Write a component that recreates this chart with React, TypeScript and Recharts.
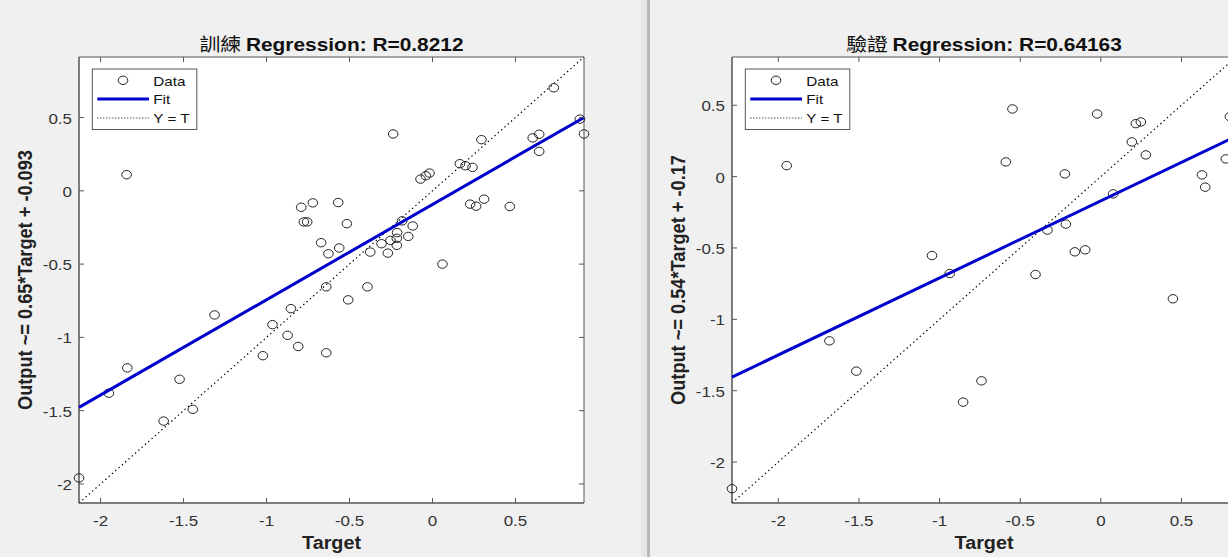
import React from 'react';
import { ScatterChart, Scatter, XAxis, YAxis, ReferenceArea, ReferenceLine } from 'recharts';

// 訓練 set: targets vs network outputs
const trainTarget = [
  -2.13, -1.95, -1.843, -1.839, -1.62, -1.524, -1.444, -1.313, -1.022, -0.964, -0.873, -0.853, -0.809, -0.791,
  -0.775, -0.755, -0.721, -0.671, -0.64, -0.64, -0.627, -0.568, -0.562, -0.516, -0.508, -0.392, -0.375, -0.307,
  -0.269, -0.253, -0.237, -0.215, -0.213, -0.215, -0.183, -0.146, -0.119, -0.072, -0.04, -0.018, 0.06, 0.165,
  0.199, 0.241, 0.227, 0.263, 0.295, 0.311, 0.466, 0.604, 0.643, 0.643, 0.731, 0.888, 0.913,
];
const trainOutput = [
  -1.959, -1.381, 0.11, -1.208, -1.571, -1.286, -1.491, -0.847, -1.125, -0.913, -0.986, -0.804, -1.062, -0.112,
  -0.212, -0.212, -0.082, -0.354, -0.655, -1.105, -0.429, -0.08, -0.39, -0.224, -0.744, -0.655, -0.418, -0.361,
  -0.425, -0.338, 0.388, -0.324, -0.285, -0.372, -0.205, -0.311, -0.24, 0.08, 0.103, 0.121, -0.5, 0.185,
  0.171, 0.16, -0.091, -0.105, 0.349, -0.057, -0.107, 0.361, 0.386, 0.269, 0.703, 0.489, 0.388,
];

// 驗證 set
const valTarget = [
  -2.287, -1.948, -1.683, -1.516, -1.047, -0.937, -0.854, -0.74, -0.589, -0.548, -0.405, -0.331, -0.223, -0.217,
  -0.161, -0.097, -0.023, 0.076, 0.192, 0.217, 0.248, 0.279, 0.447, 0.627, 0.647, 0.775, 0.8,
];
const valOutput = [
  -2.187, 0.077, -1.151, -1.363, -0.553, -0.679, -1.58, -1.431, 0.103, 0.474, -0.686, -0.375, 0.019, -0.333,
  -0.527, -0.513, 0.439, -0.121, 0.243, 0.371, 0.383, 0.152, -0.856, 0.012, -0.074, 0.124, 0.42,
];

const trainDomain: [number, number] = [-2.13, 0.913];
const valDomain: [number, number] = [-2.287, 0.838];
const trainFit = [0.65, -0.093]; // slope, offset
const valFit = [0.54, -0.17];
const tickValues = [-2, -1.5, -1, -0.5, 0, 0.5];

const W = 620;
const H = 557;
const TOP = 57;
const BOTTOM = 503;
const SX = 1.13; // the screenshot is stretched sideways
const AXIS = '#555';
const TEXT = '#333';
const BLUE = '#0000cd';
const FONT = '"Liberation Sans", Arial, Helvetica, sans-serif';
const CJK = '"Noto Sans CJK TC", "Noto Sans CJK SC", sans-serif';

const Ring = (p: any) => (
  <ellipse cx={p.cx} cy={p.cy} rx={4.8} ry={4.2} fill="none" stroke="#222" strokeWidth={1} />
);

type PanelProps = {
  left: number;
  axisW: number;
  marginRight: number;
  domain: [number, number];
  targets: number[];
  outputs: number[];
  fit: number[];
  name: string;
  r: string;
};

function Panel({ left, axisW, marginRight, domain, targets, outputs, fit, name, r }: PanelProps) {
  const plotLeft = axisW;
  const plotRight = W - marginRight;
  const cx = (plotLeft + plotRight) / 2;
  const points = targets.map((t, i) => ({ x: t, y: outputs[i] }));
  const fitPoints = domain.map((v) => ({ x: v, y: fit[0] * v + fit[1] }));
  const yLabel = `Output ~= ${fit[0]}*Target + ${fit[1]}`;

  const XTick = (p: any) => (
    <g>
      <line x1={p.x} y1={p.y} x2={p.x} y2={p.y - 5} stroke={AXIS} />
      <line x1={p.x} y1={TOP} x2={p.x} y2={TOP + 5} stroke={AXIS} />
      <text
        transform={`translate(${p.x} ${p.y + 23}) scale(${SX} 1)`}
        textAnchor="middle"
        fontFamily={FONT}
        fontSize={15}
        fill={TEXT}
      >
        {p.payload.value}
      </text>
    </g>
  );

  const YTick = (p: any) => (
    <g>
      <line x1={p.x} y1={p.y} x2={p.x + 5} y2={p.y} stroke={AXIS} />
      <line x1={plotRight} y1={p.y} x2={plotRight - 5} y2={p.y} stroke={AXIS} />
      <text
        transform={`translate(${p.x - 7} ${p.y + 6}) scale(${SX} 1)`}
        textAnchor="end"
        fontFamily={FONT}
        fontSize={15}
        fill={TEXT}
      >
        {p.payload.value}
      </text>
    </g>
  );

  return (
    <div style={{ position: 'absolute', left, top: 0, width: W, height: H }}>
      <ScatterChart width={W} height={H} margin={{ top: TOP, right: marginRight, bottom: H - BOTTOM - 30, left: 0 }}>
        <ReferenceArea
          x1={domain[0]}
          x2={domain[1]}
          y1={domain[0]}
          y2={domain[1]}
          fill="#fff"
          fillOpacity={1}
          stroke={AXIS}
          strokeWidth={1}
        />
        <XAxis
          type="number"
          dataKey="x"
          domain={domain}
          ticks={tickValues}
          interval={0}
          height={30}
          tickSize={0}
          tickMargin={0}
          tickLine={false}
          axisLine={{ stroke: AXIS }}
          tick={(p: any) => <XTick {...p} />}
        />
        <YAxis
          type="number"
          dataKey="y"
          domain={domain}
          ticks={tickValues}
          interval={0}
          width={axisW}
          tickSize={0}
          tickMargin={0}
          tickLine={false}
          axisLine={{ stroke: AXIS }}
          tick={(p: any) => <YTick {...p} />}
        />
        <ReferenceLine
          segment={[
            { x: domain[0], y: domain[0] },
            { x: domain[1], y: domain[1] },
          ]}
          stroke="#000"
          strokeWidth={1.2}
          strokeDasharray="1.4 3"
        />
        <Scatter data={points} shape={Ring} isAnimationActive={false} />
        <Scatter
          data={fitPoints}
          line={{ stroke: BLUE, strokeWidth: 3 }}
          shape={() => <g />}
          isAnimationActive={false}
        />
      </ScatterChart>

      <svg width={W} height={H} style={{ position: 'absolute', left: 0, top: 0, pointerEvents: 'none' }}>
        <text transform={`translate(${cx} 50.5) scale(${SX} 1)`} textAnchor="middle" fontSize={18.5} fill="#111">
          <tspan fontFamily={CJK}>{name} </tspan>
          <tspan fontFamily={FONT} fontWeight="bold">{`Regression: R=${r}`}</tspan>
        </text>
        <text
          transform={`translate(${cx} 549) scale(${SX} 1)`}
          textAnchor="middle"
          fontFamily={FONT}
          fontWeight="bold"
          fontSize={17.5}
          fill="#222"
        >
          Target
        </text>
        <text
          transform={`translate(${plotLeft - 47} ${(TOP + BOTTOM) / 2}) scale(${SX} 1) rotate(-90)`}
          textAnchor="middle"
          fontFamily={FONT}
          fontWeight="bold"
          fontSize={18.2}
          fill="#222"
        >
          {yLabel}
        </text>
        <g transform={`translate(${plotLeft + 13.3} 69)`}>
          <rect x={0} y={0} width={104.5} height={60.5} fill="#fff" stroke={AXIS} />
          <ellipse cx={30.7} cy={11.3} rx={4.8} ry={4.2} fill="none" stroke="#222" />
          <line x1={5} x2={56.7} y1={30} y2={30} stroke={BLUE} strokeWidth={3} />
          <line x1={5} x2={56.7} y1={49} y2={49} stroke="#000" strokeDasharray="1 2" />
          {[
            ['Data', 16.7],
            ['Fit', 35.3],
            ['Y = T', 54],
          ].map(([label, y]) => (
            <text
              key={label as string}
              transform={`translate(61 ${y}) scale(${SX} 1)`}
              fontFamily={FONT}
              fontSize={13.5}
              fill="#111"
            >
              {label}
            </text>
          ))}
        </g>
      </svg>
    </div>
  );
}

export default function App() {
  return (
    <div
      style={{
        position: 'absolute',
        left: 0,
        top: 0,
        width: 1228,
        height: 557,
        overflow: 'hidden',
        background: '#f0f0f0',
      }}
    >
      <div style={{ position: 'absolute', left: 641, top: 0, width: 6, height: 557, background: '#e6e6e6' }} />
      <div style={{ position: 'absolute', left: 647, top: 0, width: 3, height: 557, background: '#b8b8b8' }} />
      <Panel
        left={0}
        axisW={79}
        marginRight={36}
        domain={trainDomain}
        targets={trainTarget}
        outputs={trainOutput}
        fit={trainFit}
        name="訓練"
        r="0.8212"
      />
      <Panel
        left={651}
        axisW={81}
        marginRight={35}
        domain={valDomain}
        targets={valTarget}
        outputs={valOutput}
        fit={valFit}
        name="驗證"
        r="0.64163"
      />
    </div>
  );
}
